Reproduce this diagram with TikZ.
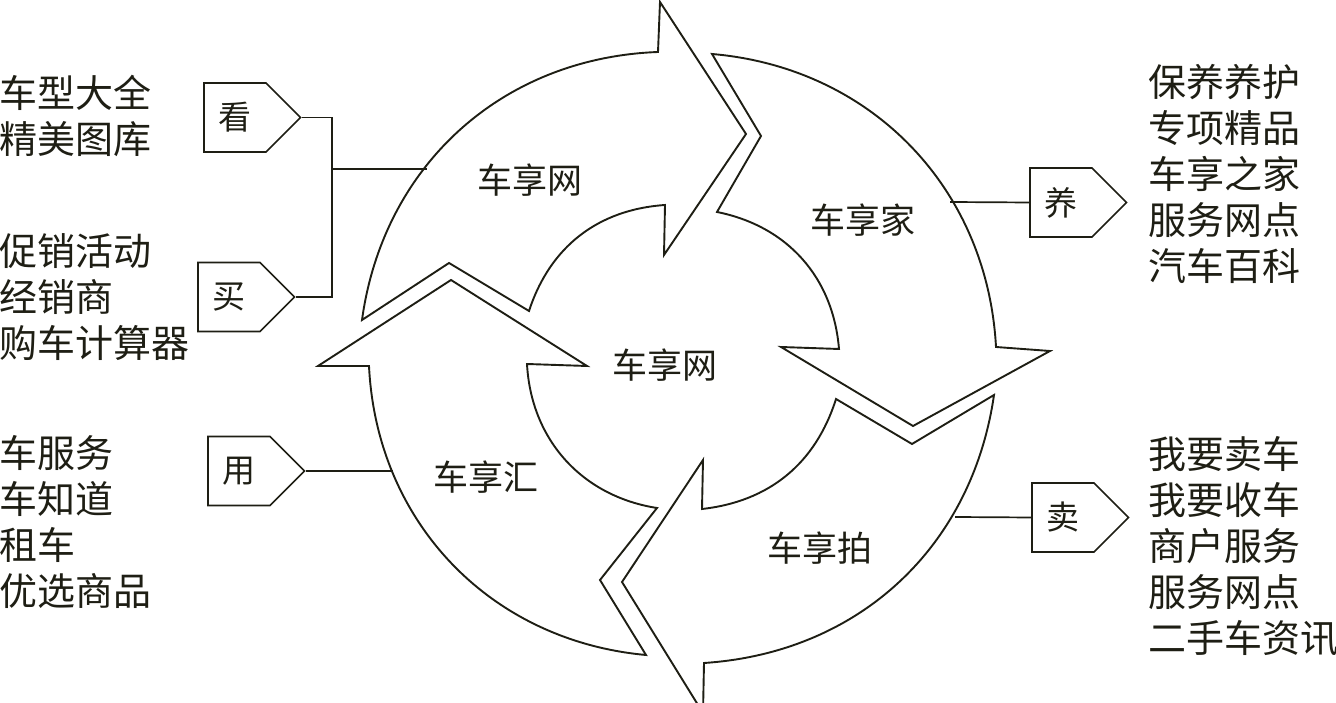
\documentclass[tikz,border=0pt]{standalone}
\usepackage{fontspec}
\setmainfont{Noto Sans CJK SC}
\usepackage{tikz}
\usetikzlibrary{shapes.symbols}
\usepackage{xcolor}
\definecolor{ink}{HTML}{1E1E14}
\tikzset{
  ringarrow/.style = {draw=ink, line width=1.9pt, line join=miter},
  tagbox/.style    = {draw=ink, line width=1.7pt, signal, signal to=east,
                      signal pointer angle=90, minimum height=69pt,
                      inner xsep=14.5pt, inner ysep=0pt, text=ink,
                      font=\fontsize{33}{33}\selectfont},
  sidetext/.style  = {align=left, inner sep=0pt, text=ink,
                      font=\fontsize{38}{46}\selectfont},
  ringtext/.style  = {inner sep=0pt, text=ink,
                      font=\fontsize{35}{35}\selectfont},
  link/.style      = {draw=ink, line width=1.7pt},
}

\begin{document}
\begin{tikzpicture}[x=1pt,y=1pt]
\useasboundingbox (0,0) rectangle (1336,703);
% ring of four arrows
\draw[ringarrow] (362,383) to[bend left=40] (658,651) -- (660,701) -- (746,569)
  -- (664,448) -- (665,498) to[bend right=34] (529,392) -- (449,440) -- cycle;
\draw[ringarrow] (712,649) to[bend left=41] (996,356) -- (1050,352) -- (913,277)
  -- (781,356) -- (839,354) to[bend right=37] (717,491) -- (761,567) -- cycle;
\draw[ringarrow] (994,308) to[bend left=39] (704,40) -- (703,-10) -- (622,121)
  -- (703,243) -- (702,194) to[bend right=33] (836,304) -- (912,259) -- cycle;
\draw[ringarrow] (646,48) to[bend left=41] (369,337) -- (318,337) -- (451,423)
  -- (587,337) -- (527,339) to[bend right=39] (657,195) -- (600,123) -- cycle;

\node[ringtext] (wangTop) at (530,523) {车享网};
\node[ringtext] (jia)     at (863,483) {车享家};
\node[ringtext] (wangMid) at (665,338) {车享网};
\node[ringtext] (hui)     at (486,226) {车享汇};
\node[ringtext] (pai)     at (820,155) {车享拍};

% tags and lists
\node[tagbox] (look) at (235,585.5)  {看};
\node[tagbox] (buy)  at (229,406)    {买};
\node[tagbox] (use)  at (239,232)    {用};
\node[tagbox] (care) at (1061,500.5) {养};
\node[tagbox] (sell) at (1063,185.5) {卖};

\node[sidetext, anchor=west] (lookList) at (-1,587.5) {车型大全\\精美图库};
\node[sidetext, anchor=west] (buyList)  at (-1,405.5) {促销活动\\经销商\\购车计算器};
\node[sidetext, anchor=west] (useList)  at (-1,181)   {车服务\\车知道\\租车\\优选商品};
\node[sidetext, anchor=west] (careList) at (1148,529.5) {保养养护\\专项精品\\车享之家\\服务网点\\汽车百科};
\node[sidetext, anchor=west] (sellList) at (1148,157)   {我要卖车\\我要收车\\商户服务\\服务网点\\二手车资讯};

\coordinate (fork)    at (332,534);
\coordinate (wangEnd) at (427,534);
\coordinate (huiEnd)  at (393,232);
\coordinate (jiaEnd)  at (950,501);
\coordinate (paiEnd)  at (955,186);
\draw[link] (look.east) -| (fork) |- (buy.east);
\draw[link] (fork) -- (wangEnd);
\draw[link] (use.east) -- (huiEnd);
\draw[link] (jiaEnd) -- (care.west);
\draw[link] (paiEnd) -- (sell.west);
\end{tikzpicture}
\end{document}
